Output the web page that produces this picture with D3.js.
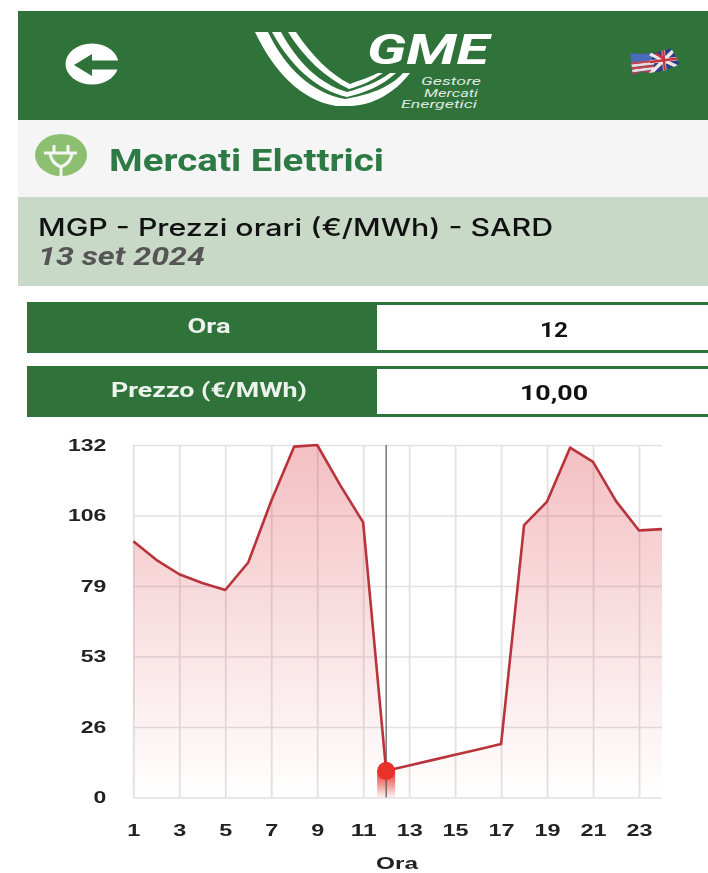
<!DOCTYPE html>
<html><head><meta charset="utf-8">
<script src="https://cdn.jsdelivr.net/npm/d3@7/dist/d3.min.js"></script>
<style>html,body{margin:0;padding:0;background:#fff;overflow:hidden}svg{display:block;filter:blur(0.45px)}</style>
</head><body><svg id="c" width="708" height="873"></svg>
<script>
const hours=[1,2,3,4,5,6,7,8,9,10,11,12,13,14,15,16,17,18,19,20,21,22,23,24];
const prices=[96,89,83.6,80.3,77.7,88,111,131.4,132,117,103,10,12,14,16,18,20,102,110.8,131,125.7,111,100,100.5];
const xTicks=[1,3,5,7,9,11,13,15,17,19,21,23];
const yTicks=[0,26.4,52.8,79.2,105.6,132];
const selectedHour=12, selectedPrice=10;
const titleText="MGP - Prezzi orari (€/MWh) - SARD", dateText="13 set 2024", sectionText="Mercati Elettrici";
const rowLabels=["Ora","Prezzo (€/MWh)"], rowValues=["12","10,00"];

const svg=d3.select("#c");
const GREEN="#2f733b";
const FONT="'Liberation Sans',Arial,sans-serif";
function rect(x,y,w,h,f){return svg.append("rect").attr("x",x).attr("y",y).attr("width",w).attr("height",h).attr("fill",f);}
function txt(x,y,s,size,weight,fill,width,anchor,style,font,adj){
  const t=svg.append("text").attr("x",x).attr("y",y).text(s).attr("font-size",size).attr("font-weight",weight)
   .attr("fill",fill).attr("font-family",font||FONT).attr("text-anchor",anchor||"start");
  if(width)t.attr("textLength",width).attr("lengthAdjust",adj||"spacingAndGlyphs");
  if(style)t.attr("font-style",style);
  return t;
}
// header bands
rect(18,11,690,109,GREEN);
rect(18,120,690,77,"#f5f5f5");
rect(18,197,690,89,"#c9d9c8");
// back arrow
svg.append("ellipse").attr("cx",92).attr("cy",64).attr("rx",26.5).attr("ry",20.5).attr("fill","#fff");
svg.append("path").attr("d","M74,65 L92,54 L92,60.5 L119,60.5 L119,69.5 L92,69.5 L92,76 Z").attr("fill",GREEN);
// logo
const swoosh=[
 "M255,32 L268,32 C285,68 312,93 345,99 C368,95 390,88 403,73 L410,73 C396,92 372,106 350,106 L336,106 C300,100 273,70 255,32 Z",
 "M272,32 L281,32 C298,63 320,84 347,92 C362,88 378,82 390,73 L396,73 C382,86 364,93 347,97 C316,90 290,65 272,32 Z",
 "M288,32 L296,32 C312,56 330,74 350,84 C358,81 370,77 378,73 L383,73 C372,81 360,86 349,89 C326,78 304,58 288,32 Z"];
svg.selectAll("path.sw").data(swoosh).join("path").attr("class","sw").attr("d",d=>d).attr("fill","#fff");
txt(367,64,"GME",43,"700","#fff",122,"start","italic","Roboto");
txt(481,85,"Gestore",11,"400","#dfe9df",60,"end","italic","Roboto");
txt(478,96.5,"Mercati",11,"400","#dfe9df",54,"end","italic","Roboto");
txt(477,108,"Energetici",11,"400","#dfe9df",76,"end","italic","Roboto");
// flag
const fl=svg.append("g");
const flagShape="M630,53 Q650,56 671,48 L680,64 Q660,75 643,72 Q636,72 633,77 Z";
const defs0=svg.append("defs");
defs0.append("clipPath").attr("id","fc").append("path").attr("d",flagShape);
const fg=fl.append("g").attr("clip-path","url(#fc)");
fg.append("path").attr("d",flagShape).attr("fill","#2c3f80");
fg.append("rect").attr("x",628).attr("y",48).attr("width",24).attr("height",15).attr("fill","#4a6cb8");
fg.append("path").attr("d","M630,66 L654,63 M632,71 L654,68").attr("stroke","#ead9d9").attr("stroke-width",3);
fg.append("path").attr("d","M630,63.5 L654,61 M632,68.5 L654,66 M632,74 L654,71").attr("stroke","#c5414e").attr("stroke-width",2.2);
fg.append("path").attr("d","M650,54 L678,67 M676,48 L650,74 M663,47 L665,74 M650,62 L682,58").attr("stroke","#efe6e6").attr("stroke-width",3.5);
fg.append("path").attr("d","M663,47 L665,74 M650,62 L682,58 M655,53 L664,59").attr("stroke","#c8303c").attr("stroke-width",2.4);
// plug icon
svg.append("ellipse").attr("cx",61).attr("cy",155).attr("rx",26).attr("ry",21).attr("fill","#8cbf6f");
svg.append("path").attr("d","M44,153 H77 M54,145 V153 M68,145 V153 M50,153 Q51,163 61,167 Q71,163 72,153 M61,167 V176")
  .attr("fill","none").attr("stroke","#f5f5f5").attr("stroke-width",3);
// titles
txt(109,171,sectionText,31,"700","#2e7a44",275,"start",null,"Roboto");
txt(38,236,titleText,24,"500","#111",515,"start",null,"Inter");
txt(38,265,dateText,26,"700","#555",167,"start","italic","Roboto");
// info rows
[[302,51],[366,51]].forEach((r,i)=>{
  rect(27,r[0],681,r[1],GREEN);
  rect(377,r[0]+3,331,r[1]-6,"#fff");
  const w=[43,196][i], vw=[28,68][i];
  txt(209,r[0]+31,rowLabels[i],20,"700","#ecf2ec",w,"middle",null,"Roboto");
  txt(554,r[0]+35-(i?1:0),rowValues[i],21,"700","#111",vw,"middle",null,"Roboto");
});

// chart
const x=d3.scaleLinear().domain([1,24]).range([133.3,662]);
const y=d3.scaleLinear().domain([0,132]).range([797.5,445]);
const defs=svg.append("defs");
const g1=defs.append("linearGradient").attr("id","af").attr("gradientUnits","userSpaceOnUse").attr("x1",0).attr("x2",0).attr("y1",y(132)).attr("y2",y(0));
g1.append("stop").attr("offset",0).attr("stop-color","#d9323c").attr("stop-opacity",0.31);
g1.append("stop").attr("offset",1).attr("stop-color","#d9323c").attr("stop-opacity",0);
const g2=defs.append("linearGradient").attr("id","mk").attr("x1",0).attr("x2",0).attr("y1",0).attr("y2",1);
g2.append("stop").attr("offset",0).attr("stop-color","#e5332a").attr("stop-opacity",1);
g2.append("stop").attr("offset",1).attr("stop-color","#e5332a").attr("stop-opacity",0.05);

const gridColor="#e3e1e3";
const gx=svg.append("g").attr("transform",`translate(0,${y(0)})`)
 .call(d3.axisBottom(x).tickValues(xTicks).tickSize(-(y(0)-y(132))).tickPadding(23).tickFormat(d3.format("d")));
gx.select(".domain").remove();
gx.selectAll("line").attr("stroke",gridColor).attr("stroke-width",1.8);
gx.selectAll("text").attr("font-family",FONT).attr("font-weight",700).attr("font-size",17).attr("fill","#222").attr("dy","0.32em")
  .attr("y",33).attr("textLength",d=>String(d).length*13).attr("lengthAdjust","spacingAndGlyphs");
const gy=svg.append("g").attr("transform",`translate(${x(1)},0)`)
 .call(d3.axisLeft(y).tickValues(yTicks).tickSize(-(x(24)-x(1))).tickPadding(27).tickFormat(d=>Math.round(d)));
gy.select(".domain").remove();
gy.selectAll("line").attr("stroke",gridColor).attr("stroke-width",1.5);
gy.selectAll("text").attr("font-family",FONT).attr("font-weight",700).attr("font-size",17).attr("fill","#222")
  .attr("textLength",d=>String(Math.round(d)).length*12.8).attr("lengthAdjust","spacingAndGlyphs");
txt(397,869,"Ora",17,"700","#222",42,"middle");

const area=d3.area().x((d,i)=>x(hours[i])).y0(y(0)).y1(d=>y(d));
const line=d3.line().x((d,i)=>x(hours[i])).y(d=>y(d));
svg.append("path").datum(prices).attr("d",area).attr("fill","url(#af)");
// selected-hour marker
const sx=x(selectedHour), sy=y(selectedPrice);
svg.append("rect").attr("x",sx-9).attr("y",sy).attr("width",18).attr("height",y(0)-sy).attr("fill","url(#mk)");
svg.append("line").attr("x1",sx).attr("x2",sx).attr("y1",y(132)).attr("y2",y(0)).attr("stroke","#555").attr("stroke-width",1.2);
svg.append("path").datum(prices).attr("d",line).attr("fill","none").attr("stroke","#b9333a").attr("stroke-width",2.6).attr("stroke-linejoin","round");
svg.append("circle").attr("cx",sx).attr("cy",sy).attr("r",9).attr("fill","#e5332a");
</script></body></html>
